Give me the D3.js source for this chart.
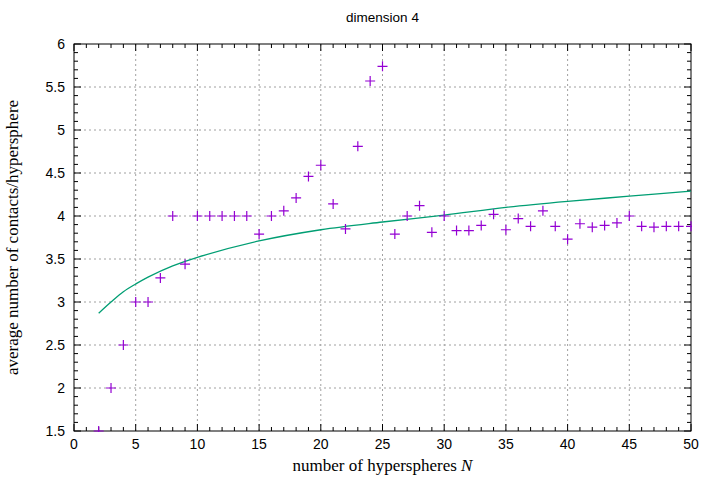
<!DOCTYPE html><html><head><meta charset="utf-8">
<script src="https://cdn.jsdelivr.net/npm/d3@7"></script>
<style>body{margin:0;background:#fff}</style></head><body><svg id="c" width="720" height="480"></svg>
<script>
const nValues=[2,3,4,5,6,7,8,9,10,11,12,13,14,15,16,17,18,19,20,21,22,23,24,25,26,27,28,29,30,31,32,33,34,35,36,37,38,39,40,41,42,43,44,45,46,47,48,49,50];
const contacts=[1.5,2.0,2.5,3.0,3.0,3.28,4.0,3.44,4.0,4.0,4.0,4.0,4.0,3.79,4.0,4.06,4.21,4.46,4.59,4.14,3.85,4.81,5.57,5.74,3.79,4.0,4.12,3.81,4.0,3.83,3.83,3.89,4.02,3.84,3.97,3.88,4.06,3.88,3.73,3.91,3.87,3.89,3.92,4.0,3.88,3.87,3.88,3.88,3.88];
const fitN=[2,3,4,5,6,8,10,15,20,25,30,35,40,45,50];
const fitY=[2.87,3.0,3.12,3.21,3.29,3.42,3.52,3.71,3.84,3.93,4.01,4.1,4.17,4.23,4.29];
const xTicks=[0,5,10,15,20,25,30,35,40,45,50];
const yTicks=[1.5,2,2.5,3,3.5,4,4.5,5,5.5,6];
const L=74,R=691,T=44,B=431;
const svg=d3.select("#c");
const x=d3.scaleLinear().domain([0,50]).range([L,R]);
const y=d3.scaleLinear().domain([1.5,6]).range([B,T]);
const g=svg.append("g");
xTicks.slice(1,-1).forEach(t=>g.append("line").attr("x1",x(t)).attr("x2",x(t)).attr("y1",T).attr("y2",B).attr("stroke","#a0a0a0").attr("stroke-dasharray","2,3"));
yTicks.slice(1,-1).forEach(t=>g.append("line").attr("y1",y(t)).attr("y2",y(t)).attr("x1",L).attr("x2",R).attr("stroke","#a0a0a0").attr("stroke-dasharray","2,3"));
d3.range(0,51,1).forEach(v=>{const big=v%5===0,l=big?7:4;
 g.append("line").attr("x1",x(v)).attr("x2",x(v)).attr("y1",B).attr("y2",B-l).attr("stroke","#000");
 g.append("line").attr("x1",x(v)).attr("x2",x(v)).attr("y1",T).attr("y2",T+l).attr("stroke","#000");});
d3.range(15,61,1).forEach(i=>{const v=i/10,big=i%5===0,l=big?7:4;
 g.append("line").attr("y1",y(v)).attr("y2",y(v)).attr("x1",L).attr("x2",L+l).attr("stroke","#000");
 g.append("line").attr("y1",y(v)).attr("y2",y(v)).attr("x1",R).attr("x2",R-l).attr("stroke","#000");});
g.append("rect").attr("x",L).attr("y",T).attr("width",R-L).attr("height",B-T).attr("fill","none").attr("stroke","#000");
const ff="Liberation Sans, Arial, sans-serif";
xTicks.forEach(t=>g.append("text").attr("x",x(t)).attr("y",B+18).attr("text-anchor","middle").attr("font-family",ff).attr("font-size",14).text(t));
yTicks.forEach(t=>g.append("text").attr("x",L-9).attr("y",y(t)+5).attr("text-anchor","end").attr("font-family",ff).attr("font-size",14).text(t));
g.append("text").attr("x",(L+R)/2).attr("y",22).attr("text-anchor","middle").attr("font-family",ff).attr("font-size",13.5).text("dimension 4");
const sf="Liberation Serif, Times New Roman, serif";
const xl=g.append("text").attr("x",(L+R)/2).attr("y",471).attr("text-anchor","middle").attr("font-family",sf).attr("font-size",17).text("number of hyperspheres ");
xl.append("tspan").attr("font-style","italic").text("N");
g.append("text").attr("transform",`translate(18,${(T+B)/2}) rotate(-90)`).attr("text-anchor","middle").attr("font-family",sf).attr("font-size",17).text("average number of contacts/hypersphere");
g.append("path").datum(fitN.map((n,i)=>[n,fitY[i]])).attr("d",d3.line().x(d=>x(d[0])).y(d=>y(d[1])).curve(d3.curveCatmullRom)).attr("fill","none").attr("stroke","#009e73").attr("stroke-width",1.3);
const cp=g.append("g").attr("clip-path","url(#clp)");
svg.append("clipPath").attr("id","clp").append("rect").attr("x",L).attr("y",T).attr("width",R-L+1).attr("height",B-T+1);
nValues.forEach((n,i)=>{const px=x(n),py=y(contacts[i]);
 cp.append("path").attr("d",`M${px-5},${py}H${px+5}M${px},${py-5}V${py+5}`).attr("stroke","#9400d3").attr("stroke-width",1.2);});
</script></body></html>
